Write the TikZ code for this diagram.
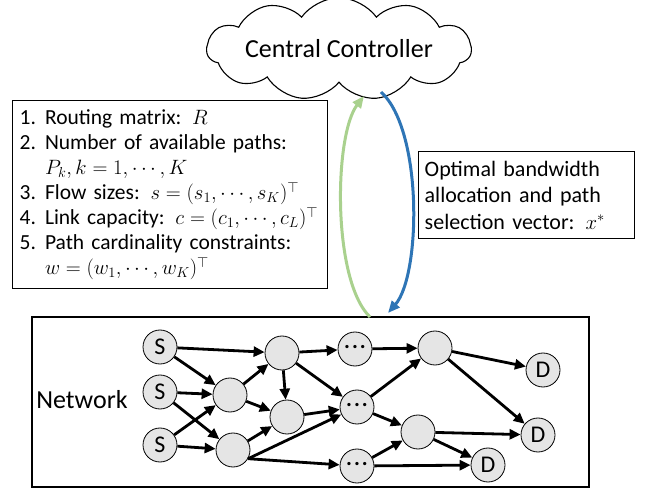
\documentclass[tikz,border=0pt]{standalone}
\usepackage{fontspec}
\setmainfont{Carlito}
\usetikzlibrary{shapes.symbols,arrows.meta}
\tikzset{
	box/.style={draw=black, line width=1.4pt, inner sep=6pt, align=left},
	host/.style={circle, draw=black, line width=0.8pt, fill=gray!20, minimum size=34pt, inner sep=0pt, font=\fontsize{24}{24}\selectfont},
	link/.style={-{Triangle[length=11pt,width=10pt]}, line width=2.8pt},
	loop/.style={-{Triangle[length=12pt,width=10pt]}, line width=3pt},
}
\newcommand{\more}{\raisebox{5pt}{\bfseries\fontsize{22}{22}\selectfont .\hspace{2pt}.\hspace{2pt}.}}
\begin{document}
\begin{tikzpicture}[x=1pt, y=-1pt]
	\useasboundingbox (0,0) rectangle (646,489);
	\node[cloud, draw=black, line width=1.1pt, cloud puffs=11, cloud puff arc=110, aspect=4, inner sep=0pt, minimum width=240pt, minimum height=50pt, font=\fontsize{26}{30}\selectfont] (ctrl) at (339,49) {Central Controller};
	\node[box, anchor=north west, text width=301pt, minimum height=188pt, inner xsep=7pt, font=\fontsize{21.5}{25}\selectfont] (inputs) at (12,100) {%
		\begin{tabular}{@{}l@{\hspace{9pt}}l@{}}
		1. & Routing matrix: $R$\\
		2. & Number of available paths:\\
		   & $P_k, k=1,\cdots,K$\\
		3. & Flow sizes: $s=(s_1,\cdots,s_K)^\top$\\
		4. & Link capacity: $c=(c_1,\cdots,c_L)^\top$\\
		5. & Path cardinality constraints:\\
		   & $w=(w_1,\cdots,w_K)^\top$
		\end{tabular}};
	\node[box, anchor=north west, text width=204pt, minimum height=87pt, font=\fontsize{22}{26.5}\selectfont] (output) at (418,151) {Optimal bandwidth\\allocation and path\\selection vector: $x^*$};
	\draw[draw=black, line width=1.4pt] (32,317) rectangle (589,487);
	\node[font=\fontsize{26}{26}\selectfont] (net) at (82,400) {Network};
	\coordinate (upfrom) at (370,317);
	\coordinate (upto) at (364,96);
	\coordinate (downfrom) at (381,92);
	\coordinate (downto) at (388,313);
	\draw[loop, draw={rgb,255:red,169;green,209;blue,142}] (upfrom) .. controls (332,280) and (334,135) .. (upto);
	\draw[loop, draw={rgb,255:red,46;green,117;blue,182}] (downfrom) .. controls (423,130) and (421,275) .. (downto);
	\node[host] (s1) at (160,347) {S};
	\node[host] (s2) at (160,392) {S};
	\node[host] (s3) at (160,445) {S};
	\node[host] (a1) at (230,395) {};
	\node[host] (a2) at (233,450) {};
	\node[host] (b1) at (282,353) {};
	\node[host] (b2) at (287,417) {};
	\node[host] (m1) at (355,349) {\more};
	\node[host] (m2) at (357,407) {\more};
	\node[host] (m3) at (357,466) {\more};
	\node[host] (c1) at (435,348) {};
	\node[host] (c2) at (418,432) {};
	\node[host] (d1) at (543,370) {D};
	\node[host] (d2) at (538,435) {D};
	\node[host] (d3) at (488,465) {D};
	\draw[link] (s1) -- (b1);
	\draw[link] (s1) -- (a1);
	\draw[link] (s2) -- (a1);
	\draw[link] (s2) -- (a2);
	\draw[link] (s3) -- (a1);
	\draw[link] (s3) -- (a2);
	\draw[link] (a1) -- (b1);
	\draw[link] (a1) -- (b2);
	\draw[link] (a2) -- (b2);
	\draw[link] (a2.-30) -- (m2);
	\draw[link] (a2.-30) -- (m3);
	\draw[link] (b1) -- (m1);
	\draw[link] (b1) -- (b2);
	\draw[link] (b1) -- (m2);
	\draw[link] (b2) -- (m2);
	\draw[link] (m1) -- (c1);
	\draw[link] (m2) -- (c1);
	\draw[link] (m2) -- (c2);
	\draw[link] (m3) -- (c2);
	\draw[link] (m3) -- (d3);
	\draw[link] (c1) -- (d1);
	\draw[link] (c1) -- (d2);
	\draw[link] (c2) -- (d2);
	\draw[link] (c2) -- (d3);
\end{tikzpicture}
\end{document}
